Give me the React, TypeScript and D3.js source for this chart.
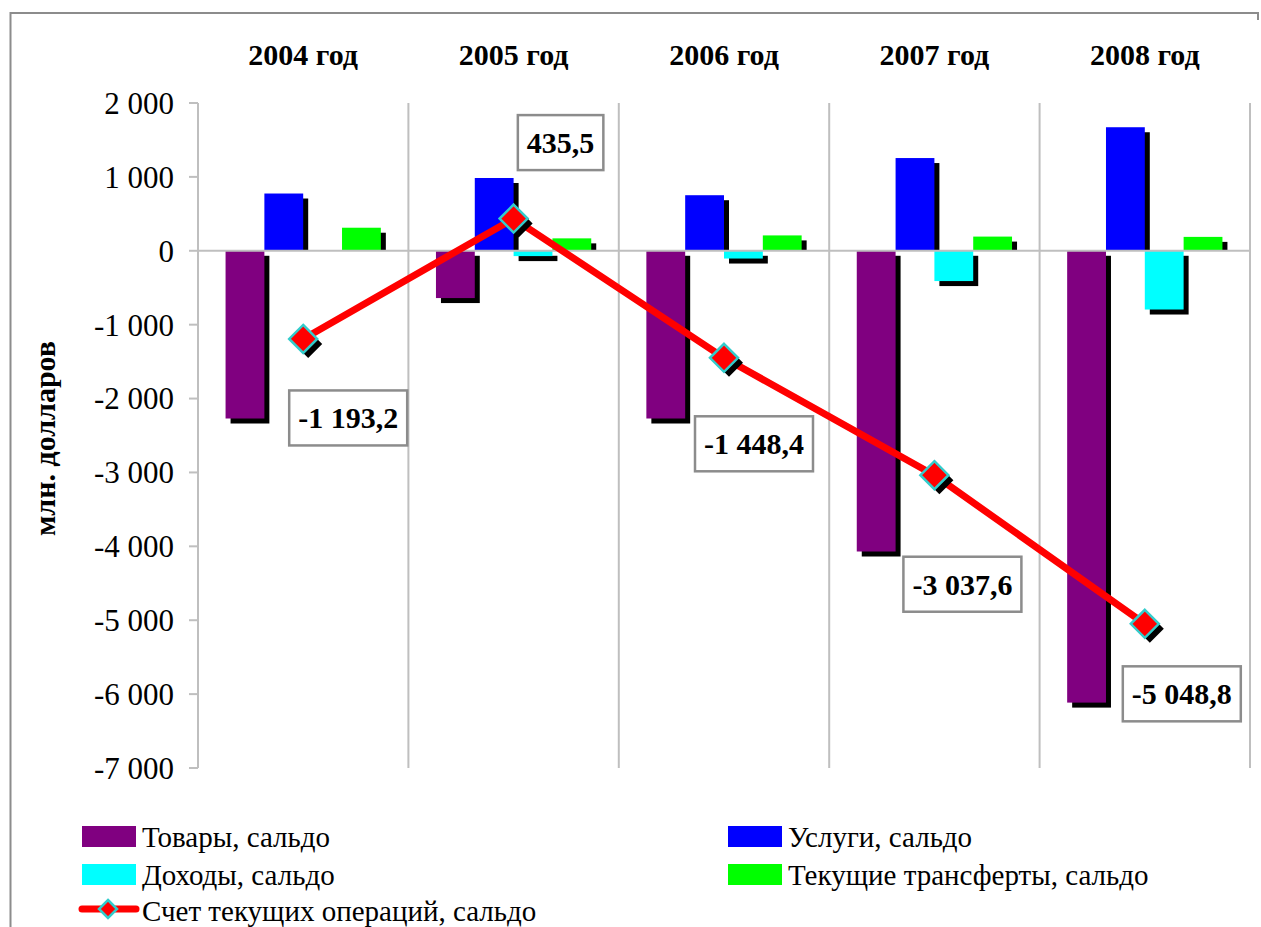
import { scaleBand, scaleLinear, line as d3_line, formatLocale } from "d3";

const years = ["2004 год", "2005 год", "2006 год", "2007 год", "2008 год"];
const seriesNames = ["Товары, сальдо", "Услуги, сальдо", "Доходы, сальдо", "Текущие трансферты, сальдо"];
const seriesColors = ["#800080", "#0000FF", "#00FFFF", "#00FF00"];
const goods = [-2270, -640, -2270, -4070, -6115];
const services = [775, 985, 752, 1255, 1672];
const income = [0, -72, -105, -410, -795];
const transfers = [312, 168, 208, 192, 188];
const currentAccount = [-1193.2, 435.5, -1448.4, -3037.6, -5048.8];
const lineName = "Счет текущих операций, сальдо";
const yTicks = [2000, 1000, 0, -1000, -2000, -3000, -4000, -5000, -6000, -7000];
const yLabel = "млн. долларов";

// ручное смещение подписей от точки
const labelOffsets = [[45, 79], [47, -76], [30, 86], [28, 109], [37, 70]];

const W = 1261;
const H = 927;
const plot = { left: 198, right: 1250, top: 103, bottom: 768 };
const FONT = "Liberation Serif, Tinos, Times New Roman, DejaVu Serif, serif";
const GRID = "#BFBFBF";

const ru = formatLocale({ decimal: ",", thousands: "\u00a0", grouping: [3], currency: ["", ""], minus: "-" });
const fmtTick = ru.format(",d");
const fmtLabel = ru.format(",.1f");

function textWidth(text: string, font: string) {
  const c = document.createElement("canvas").getContext("2d");
  if (!c) return text.length * 15;
  c.font = font;
  return c.measureText(text).width;
}

export default function App() {
  const values = [goods, services, income, transfers];

  const x0 = scaleBand<string>().domain(years).range([plot.left, plot.right]);
  const x1 = scaleBand<number>()
    .domain([0, 1, 2, 3])
    .range([0, x0.bandwidth()])
    .paddingInner(0)
    .paddingOuter(0.71);
  const y = scaleLinear().domain([-7000, 2000]).range([plot.bottom, plot.top]);
  const y0 = y(0);
  const sh = 5;

  const pts = currentAccount.map((v, i) => [x0(years[i])! + x0.bandwidth() / 2, y(v)] as [number, number]);
  const linePath = d3_line()(pts) ?? "";

  const diamond = (cx: number, cy: number, r: number) =>
    `M${cx},${cy - r}L${cx + r},${cy}L${cx},${cy + r}L${cx - r},${cy}Z`;

  const labelFont = `bold 30px "Liberation Serif", serif`;
  const ts = { fontFamily: FONT };

  return (
    <svg
      width={W}
      height={H}
      style={{ position: "absolute", left: 0, top: 0, background: "#fff", fontFamily: FONT }}
    >
      <rect width={W} height={H} fill="#fff" />
      {/* рамка */}
      <path d={`M1258,20V13H10.5V${H}`} fill="none" stroke="#8c8c8c" strokeWidth={2} />

      {/* сетка */}
      {years.map((yr) => (
        <line
          key={yr}
          x1={x0(yr)! + x0.bandwidth()}
          x2={x0(yr)! + x0.bandwidth()}
          y1={plot.top}
          y2={plot.bottom}
          stroke={GRID}
          strokeWidth={2}
        />
      ))}
      <line x1={plot.left} x2={plot.left} y1={plot.top} y2={plot.bottom} stroke={GRID} strokeWidth={2} />
      {yTicks.map((t) => (
        <g key={t}>
          <line x1={plot.left - 9} x2={plot.left} y1={y(t)} y2={y(t)} stroke={GRID} strokeWidth={2} />
          <text x={174} y={y(t)} dy="0.35em" textAnchor="end" fontSize={31} fill="#000" style={ts}>
            {fmtTick(t)}
          </text>
        </g>
      ))}
      <text
        transform={`translate(44,${(plot.top + plot.bottom) / 2 + 3}) rotate(-90)`}
        textAnchor="middle"
        dy="0.35em"
        fontSize={30}
        fontWeight="bold"
        style={ts}
      >
        {yLabel}
      </text>

      {/* подписи категорий */}
      {years.map((yr) => (
        <text key={yr} x={x0(yr)! + x0.bandwidth() / 2} y={65} textAnchor="middle" fontSize={30} fontWeight="bold" style={ts}>
          {yr}
        </text>
      ))}

      {/* тени столбцов */}
      {values.map((vals, s) =>
        vals.map((v, i) => {
          if (v === 0) return null;
          const bx = x0(years[i])! + x1(s)!;
          const top = v > 0 ? y(v) + sh : y0 + sh;
          const bottom = v > 0 ? y0 : y(v) + sh;
          return (
            <rect key={`s${s}-${i}`} x={bx + sh} y={top} width={x1.bandwidth()} height={Math.max(0, bottom - top)} fill="#000" />
          );
        })
      )}
      {/* столбцы */}
      {values.map((vals, s) =>
        vals.map((v, i) => {
          if (v === 0) return null;
          const bx = x0(years[i])! + x1(s)!;
          return (
            <rect
              key={`b${s}-${i}`}
              x={bx}
              y={Math.min(y(v), y0)}
              width={x1.bandwidth()}
              height={Math.abs(y(v) - y0)}
              fill={seriesColors[s]}
            />
          );
        })
      )}

      <line x1={plot.left} x2={plot.right} y1={y0} y2={y0} stroke={GRID} strokeWidth={2} />

      {/* линия */}
      <path d={linePath} fill="none" stroke="#FF0000" strokeWidth={7} strokeLinejoin="round" />
      {pts.map(([cx, cy], i) => (
        <g key={`m${i}`}>
          <path d={diamond(cx + 5, cy + 5, 14)} fill="#000" />
          <path d={diamond(cx, cy, 14)} fill="#FF0000" stroke="#33CCCC" strokeWidth={2.5} />
        </g>
      ))}

      {/* подписи данных */}
      {pts.map(([cx, cy], i) => {
        const txt = fmtLabel(currentAccount[i]);
        const w = textWidth(txt, labelFont) + 18;
        const h = 55;
        const lx = cx + labelOffsets[i][0];
        const ly = cy + labelOffsets[i][1];
        return (
          <g key={`l${i}`}>
            <rect x={lx - w / 2} y={ly - h / 2} width={w} height={h} fill="#fff" stroke="#8c8c8c" strokeWidth={2.5} />
            <text x={lx} y={ly} dy="0.35em" textAnchor="middle" fontSize={30} fontWeight="bold" style={ts}>
              {txt}
            </text>
          </g>
        );
      })}

      {/* легенда */}
      {seriesNames.map((name, s) => {
        const col = s % 2;
        const row = Math.floor(s / 2);
        const sx = col === 0 ? 82 : 728;
        const sy = 826 + row * 38;
        return (
          <g key={name}>
            <rect x={sx} y={sy} width={54} height={21} fill={seriesColors[s]} />
            <text x={sx + 60} y={sy + 21} fontSize={29} style={ts}>
              {name}
            </text>
          </g>
        );
      })}
      <g>
        <line x1={82} x2={136} y1={909} y2={909} stroke="#FF0000" strokeWidth={7} strokeLinecap="round" />
        <path d={diamond(108, 909, 9)} fill="#FF0000" stroke="#33CCCC" strokeWidth={2.5} />
        <text x={142} y={921} fontSize={29} style={ts}>
          {lineName}
        </text>
      </g>
    </svg>
  );
}
